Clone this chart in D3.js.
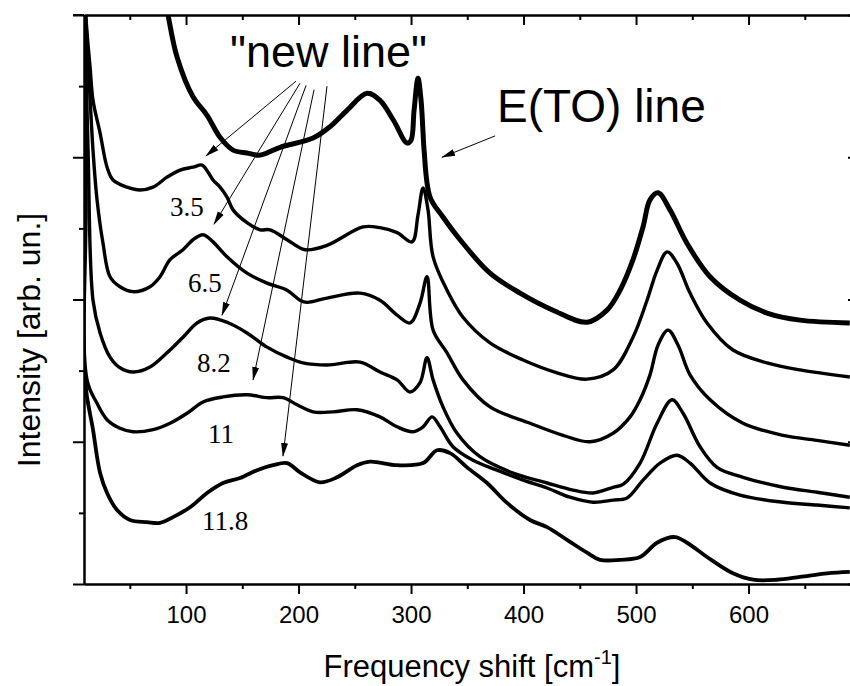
<!DOCTYPE html>
<html><head><meta charset="utf-8">
<script src="https://cdn.jsdelivr.net/npm/d3@7"></script>
<style>body{margin:0;background:#fff}svg{display:block}</style>
</head><body>
<svg id="c" width="850" height="686"></svg>
<script>
// ---- data (x: frequency shift cm^-1, y: intensity arb. units) ----
const xMajorTicks = [100, 200, 300, 400, 500, 600];
const xMinorTicks = [50, 150, 250, 350, 450, 550, 650];
const yMajorTicks = [0, 2, 4, 6, 8];
const yMinorTicks = [1, 3, 5, 7];

const curveRef = [[77,8.6],[84,8.0],[92,7.41],[106.2,6.85],[118.7,6.59],[130.2,6.28],[141.8,6.10],[154.2,6.06],[165.8,6.03],[183.6,6.14],[212.9,6.27],[228,6.43],[243.1,6.66],[260.9,6.90],[272.4,6.80],[284.4,6.52],[296.4,6.20],[300,6.24],[302.7,6.66],[306.2,7.11],[308.9,6.80],[310.7,6.34],[311.6,6.10],[316.9,5.44],[328.4,5.16],[343.6,4.84],[370.2,4.37],[396.9,4.09],[426.2,3.85],[456.4,3.68],[474.2,3.85],[485.8,4.13],[497.3,4.56],[506.2,5.02],[512.4,5.40],[519.6,5.50],[530.2,5.26],[545.3,4.79],[565.8,4.32],[592.4,3.99],[616.4,3.81],[645.8,3.71],[690,3.67]];

const curve35 = [[9.3,8.4],[12,7.75],[14.7,7.27],[17.3,6.80],[23.6,6.34],[29.8,5.86],[35.1,5.68],[47.6,5.58],[59.1,5.54],[70.7,5.58],[83.1,5.72],[94.7,5.82],[106.2,5.86],[114.2,5.89],[119.6,5.79],[124,5.68],[130.2,5.58],[136.4,5.44],[141.8,5.26],[154.2,5.08],[165.8,4.98],[174.7,4.98],[189.8,4.84],[205.8,4.70],[225.3,4.76],[257.3,5.02],[272.4,5.01],[287.6,4.94],[300.9,4.81],[306.2,5.19],[310.7,5.57],[315.1,5.26],[319.6,4.60],[332,4.13],[346.2,3.75],[370.2,3.39],[399.6,3.15],[429.8,2.97],[456.4,2.88],[479.6,3.01],[497.3,3.47],[509.8,3.99],[518.7,4.41],[527.6,4.67],[536.4,4.51],[548,4.09],[563.1,3.67],[586.2,3.29],[616.4,3.11],[645.8,3.01],[690,2.91]];

const curve65 = [[9.3,8.4],[12.9,7.37],[17.3,6.10],[20.9,5.40],[26.2,4.79],[32.4,4.32],[41.3,4.18],[52.9,4.11],[68,4.18],[76.9,4.32],[85.8,4.56],[97.3,4.70],[106.2,4.84],[115.1,4.91],[124,4.81],[136.4,4.60],[154.2,4.37],[172,4.23],[189.8,4.13],[201.3,3.99],[207.6,3.96],[225.3,4.02],[254.7,4.09],[272.4,3.99],[287.6,3.78],[299.1,3.67],[308,3.95],[314.2,4.32],[319.6,3.57],[332,3.25],[346.2,2.87],[370.2,2.49],[405.8,2.26],[435.1,2.09],[459.1,2.00],[479.6,2.12],[494.7,2.35],[503.6,2.59],[512.4,2.94],[519.6,3.36],[528.4,3.57],[537.3,3.36],[548,2.94],[565.8,2.59],[595.1,2.26],[630.7,2.09],[660.9,2.02],[690,1.95]];

const curve82 = [[9.3,8.5],[12.9,6.10],[17.3,3.99],[23.6,3.53],[32.4,3.19],[41.3,3.04],[52.9,2.98],[68,3.05],[83.1,3.25],[97.3,3.47],[109.8,3.67],[121.3,3.74],[136.4,3.68],[154.2,3.53],[172,3.33],[189.8,3.19],[204,3.11],[225.3,3.08],[254.7,3.12],[272.4,2.98],[287.6,2.87],[299.1,2.70],[308,2.83],[314.2,3.18],[319.6,2.87],[328.4,2.49],[340.9,2.12],[361.3,1.79],[390.7,1.56],[420.9,1.42],[444,1.32],[461.8,1.28],[479.6,1.36],[488.4,1.40],[503.6,1.70],[518.7,2.26],[532,2.59],[541.8,2.40],[556.9,1.93],[572,1.64],[595.1,1.50],[630.7,1.36],[660.9,1.29],[690,1.22]];

const curve11 = [[9.3,8.5],[11.1,5.40],[12,2.87],[20.9,2.54],[29.8,2.31],[41.3,2.19],[52.9,2.14],[70.7,2.17],[85.8,2.26],[100.9,2.40],[115.1,2.56],[132.9,2.63],[154.2,2.66],[172,2.62],[186.2,2.62],[198.7,2.52],[212.9,2.42],[230.7,2.42],[252,2.45],[272.4,2.35],[287.6,2.21],[301.8,2.14],[310.7,2.21],[318.7,2.35],[325.8,2.21],[337.3,1.93],[355.1,1.74],[376.4,1.60],[399.6,1.46],[420.9,1.35],[441.3,1.22],[461.8,1.15],[479.6,1.18],[492,1.21],[506.2,1.46],[521.3,1.70],[536.4,1.81],[548,1.70],[565.8,1.42],[592.4,1.25],[630.7,1.15],[660.9,1.11],[690,1.07]];

const curve118 = [[9.3,8.5],[10.2,2.87],[17.3,2.17],[23.6,1.56],[29.8,1.28],[38.7,1.04],[50.2,0.90],[65.3,0.87],[76.9,0.86],[88.4,0.94],[103.6,1.08],[118.7,1.28],[132.9,1.42],[148,1.49],[163.1,1.60],[177.3,1.67],[189.8,1.70],[201.3,1.57],[219.1,1.43],[234.2,1.50],[252,1.67],[263.6,1.72],[287.6,1.67],[310.7,1.70],[323.1,1.88],[334.7,1.84],[349.8,1.64],[367.6,1.42],[385.3,1.14],[405.8,0.90],[420.9,0.80],[438.7,0.62],[456.4,0.44],[468,0.34],[485.8,0.34],[503.6,0.38],[518.7,0.58],[534.7,0.66],[545.3,0.58],[563.1,0.38],[586.2,0.15],[604,0.06],[625.3,0.06],[645.8,0.10],[669.8,0.15],[690,0.17]];

const sampleLabels = ["3.5", "6.5", "8.2", "11", "11.8"];
const sampleLabelPos = [[85.8,5.17],[101.8,4.11],[109.8,2.98],[119.6,1.98],[114.2,0.76]];
const newLineStarts = [[197.8,7.07],[201.3,7.04],[206.7,7.01],[213.8,6.95],[225.3,7.00]];
const newLineTips = [[117.8,6.02],[124.9,5.06],[132,3.78],[159.6,2.87],[186.2,1.80]];
const etoArrow = [[374.7,6.30],[327.6,6.00]];

// ---- layout ----
const svg = d3.select("#c");
const L = 84, R = 858, T = 15, B = 584;
const x = d3.scaleLinear().domain([9.3, 697.3]).range([L, R]);
const y = d3.scaleLinear().domain([0, 8]).range([B, T]);

svg.append("defs").append("clipPath").attr("id","clip")
  .append("rect").attr("x",L).attr("y",T).attr("width",R-L).attr("height",B-T);
const mk = svg.select("defs").append("marker").attr("id","ah")
  .attr("markerUnits","userSpaceOnUse").attr("markerWidth",14).attr("markerHeight",10)
  .attr("viewBox","0 -5 14 10").attr("refX",13).attr("refY",0).attr("orient","auto");
mk.append("path").attr("d","M0,-3.5L14,0L0,3.5Z").attr("fill","#000");

const line = d3.line().x(d=>x(d[0])).y(d=>y(d[1])).curve(d3.curveCatmullRom.alpha(0.5));
const g = svg.append("g").attr("clip-path","url(#clip)");
const series = [[curveRef,5],[curve35,3.4],[curve65,3.4],[curve82,3.4],[curve11,3.4],[curve118,3.8]];
series.forEach(([d,w])=>{
  g.append("path").datum(d).attr("d",line).attr("fill","none")
   .attr("stroke","#000").attr("stroke-width",w).attr("stroke-linejoin","round");
});

// ---- axes ----
function styleAxis(sel){
  sel.selectAll("path.domain").attr("stroke","#000").attr("stroke-width",2);
  sel.selectAll(".tick line").attr("stroke","#000").attr("stroke-width",2);
  sel.selectAll("text").attr("font-family","'Liberation Sans', Arial, sans-serif").attr("font-size",24).attr("fill","#000");
}
const lbl = d3.format("d");
styleAxis(svg.append("g").attr("transform",`translate(0,${B})`)
  .call(d3.axisBottom(x).tickValues(xMajorTicks).tickSize(10).tickSizeOuter(0).tickPadding(12).tickFormat(lbl)));
styleAxis(svg.append("g").attr("transform",`translate(0,${B})`)
  .call(d3.axisBottom(x).tickValues(xMinorTicks).tickSize(5).tickSizeOuter(0).tickFormat("")));
styleAxis(svg.append("g").attr("transform",`translate(0,${T})`)
  .call(d3.axisTop(x).tickValues(xMajorTicks).tickSize(-10).tickSizeOuter(0).tickFormat("")));
styleAxis(svg.append("g").attr("transform",`translate(0,${T})`)
  .call(d3.axisTop(x).tickValues(xMinorTicks).tickSize(-5).tickSizeOuter(0).tickFormat("")));
styleAxis(svg.append("g").attr("transform",`translate(${L},0)`)
  .call(d3.axisLeft(y).tickValues(yMajorTicks).tickSize(11).tickSizeOuter(0).tickFormat("")));
styleAxis(svg.append("g").attr("transform",`translate(${L},0)`)
  .call(d3.axisLeft(y).tickValues(yMinorTicks).tickSize(5).tickSizeOuter(0).tickFormat("")));
styleAxis(svg.append("g").attr("transform",`translate(${R},0)`)
  .call(d3.axisRight(y).tickValues(yMajorTicks).tickSize(-10).tickSizeOuter(0).tickFormat("")));
svg.append("line").attr("x1",L-11).attr("x2",L).attr("y1",T).attr("y2",T).attr("stroke","#000").attr("stroke-width",2);

// ---- titles ----
const xt = svg.append("text").attr("x",472).attr("y",677).attr("text-anchor","middle")
  .attr("font-family","'Liberation Sans', Arial, sans-serif").attr("font-size",31).attr("fill","#000");
xt.append("tspan").text("Frequency shift [cm");
xt.append("tspan").attr("font-size",20).attr("dy",-13).text("-1");
xt.append("tspan").attr("dy",13).text("]");

svg.append("text").attr("transform","translate(40,340) rotate(-90)").attr("text-anchor","middle")
  .attr("font-family","'Liberation Sans', Arial, sans-serif").attr("font-size",32).attr("fill","#000")
  .text("Intensity [arb. un.]");

// ---- annotations ----
svg.append("text").attr("x",x(139.1)).attr("y",y(7.27))
  .attr("font-family","'Liberation Sans', Arial, sans-serif").attr("font-size",45).attr("fill","#000")
  .text("\"new line\"");
svg.append("text").attr("x",x(376.4)).attr("y",y(6.50))
  .attr("font-family","'Liberation Sans', Arial, sans-serif").attr("font-size",46).attr("fill","#000")
  .text("E(TO) line");

newLineStarts.forEach((s,i)=>{
  const t = newLineTips[i];
  svg.append("line").attr("x1",x(s[0])).attr("y1",y(s[1])).attr("x2",x(t[0])).attr("y2",y(t[1]))
    .attr("stroke","#000").attr("stroke-width",1).attr("marker-end","url(#ah)");
});
svg.append("line").attr("x1",x(etoArrow[0][0])).attr("y1",y(etoArrow[0][1]))
  .attr("x2",x(etoArrow[1][0])).attr("y2",y(etoArrow[1][1]))
  .attr("stroke","#000").attr("stroke-width",1).attr("marker-end","url(#ah)");

sampleLabels.forEach((t,i)=>{
  svg.append("text").attr("x",x(sampleLabelPos[i][0])).attr("y",y(sampleLabelPos[i][1]))
    .attr("font-family","'Liberation Serif', 'Times New Roman', serif").attr("font-size",27).attr("fill","#000")
    .text(t);
});
</script>
</body></html>
